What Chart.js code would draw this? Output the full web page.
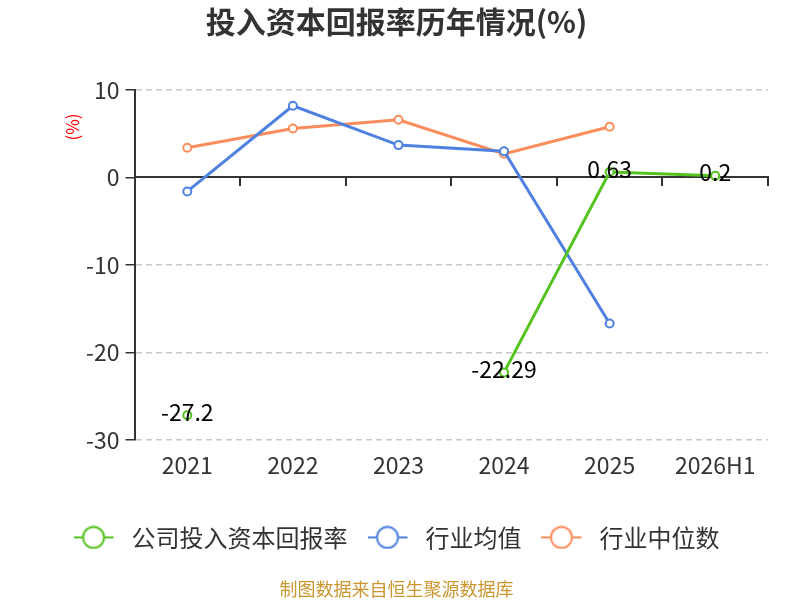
<!DOCTYPE html>
<html>
<head>
<meta charset="utf-8">
<script src="https://cdn.jsdelivr.net/npm/chart.js@4"></script>
<style>
  html, body { margin: 0; padding: 0; background: #fff; }
  #wrap { width: 800px; height: 600px; }
</style>
</head>
<body>
<div id="wrap"><canvas id="chartRoic"></canvas></div>
<script>
// 投入资本回报率历年情况 - data
const categories = ['2021', '2022', '2023', '2024', '2025', '2026H1'];
const companyRoic = [-27.2, null, null, -22.29, 0.63, 0.2];
const industryMean = [-1.6, 8.2, 3.7, 3.0, -16.7, null];
const industryMedian = [3.4, 5.6, 6.6, 2.7, 5.8, null];
const yMin = -30, yMax = 10, yStep = 10;

const FONT = "'Noto Sans CJK SC', 'Noto Sans', sans-serif";
const COLORS = { company: '#55c31f', mean: '#4f81e1', median: '#fa8d5b' };

// legend marker: short line with hollow circle (left part of a 46px box)
function legendIcon(color) {
  const c = document.createElement('canvas');
  c.width = 46; c.height = 24;
  const ctx = c.getContext('2d');
  ctx.strokeStyle = color;
  ctx.lineWidth = 2;
  ctx.beginPath(); ctx.moveTo(0, 12); ctx.lineTo(40, 12); ctx.stroke();
  ctx.fillStyle = '#fff';
  ctx.beginPath(); ctx.arc(20, 12, 10.5, 0, Math.PI * 2); ctx.fill(); ctx.stroke();
  return c;
}

// value labels on the company series
const valueLabels = {
  id: 'valueLabels',
  afterDatasetsDraw(chart) {
    const ctx = chart.ctx;
    const meta = chart.getDatasetMeta(0);
    ctx.save();
    ctx.font = '23px ' + FONT;
    ctx.fillStyle = '#000';
    ctx.textAlign = 'center';
    ctx.textBaseline = 'middle';
    meta.data.forEach((pt, i) => {
      const v = companyRoic[i];
      if (v === null || pt.skip) return;
      ctx.fillText(String(v), pt.x, pt.y - 3);
    });
    ctx.restore();
  }
};

// rotated unit label
const unitLabel = {
  id: 'unitLabel',
  afterDraw(chart) {
    const ctx = chart.ctx;
    ctx.save();
    ctx.translate(73, 127);
    ctx.rotate(-Math.PI / 2);
    ctx.font = '17px ' + FONT;
    ctx.fillStyle = '#ff0000';
    ctx.textAlign = 'center';
    ctx.textBaseline = 'middle';
    ctx.fillText('(%)', 0, 0);
    ctx.restore();
  }
};

function lineSet(label, data, color) {
  return {
    label,
    data,
    borderColor: color,
    backgroundColor: '#fff',
    borderWidth: 3,
    pointRadius: 4,
    pointBorderWidth: 2,
    pointBackgroundColor: '#fff',
    pointBorderColor: color,
    spanGaps: false,
    tension: 0,
  };
}

const icons = [legendIcon(COLORS.company), legendIcon(COLORS.mean), legendIcon(COLORS.median)];

new Chart(document.getElementById('chartRoic'), {
  type: 'line',
  data: {
    labels: categories,
    datasets: [
      lineSet('公司投入资本回报率', companyRoic, COLORS.company),
      lineSet('行业均值', industryMean, COLORS.mean),
      lineSet('行业中位数', industryMedian, COLORS.median),
    ]
  },
  options: {
    responsive: true,
    maintainAspectRatio: false,
    animation: false,
    layout: { padding: { left: 25, right: 32, top: 0, bottom: 0 } },
    plugins: {
      title: {
        display: true,
        text: '投入资本回报率历年情况(%)',
        color: '#333',
        font: { family: FONT, size: 30, weight: 'bold' },
        padding: { top: 4, bottom: 50 }
      },
      subtitle: {
        display: true,
        position: 'bottom',
        text: '制图数据来自恒生聚源数据库',
        color: '#c9962f',
        font: { family: FONT, size: 18 },
        padding: { top: 19, bottom: 0 }
      },
      legend: {
        position: 'bottom',
        labels: {
          usePointStyle: true,
          pointStyleWidth: 46,
          padding: 20,
          color: '#333',
          font: { family: FONT, size: 24 },
          generateLabels: chart => chart.data.datasets.map((ds, i) => ({
            text: ds.label,
            pointStyle: icons[i],
            datasetIndex: i,
            fontColor: '#333',
            lineWidth: 0,
            strokeStyle: 'transparent',
            fillStyle: 'transparent',
            hidden: !chart.isDatasetVisible(i),
          }))
        }
      },
      tooltip: { enabled: false }
    },
    scales: {
      x: {
        type: 'category',
        offset: true,
        grid: { display: false },
        border: { display: false },
        ticks: { color: '#333', font: { family: FONT, size: 23 }, padding: 4 },
        afterFit: scale => { scale.height += 22; }
      },
      x0: {
        type: 'category',
        position: { y: 0 },
        offset: true,
        grid: { offset: true, drawOnChartArea: false, drawTicks: true, tickLength: 8, color: '#333', lineWidth: 2 },
        border: { color: '#333', width: 2 },
        ticks: { display: false }
      },
      y: {
        min: yMin,
        max: yMax,
        ticks: { stepSize: yStep, color: '#333', font: { family: FONT, size: 23 }, padding: 6 },
        afterFit: scale => { scale.width += 55; },
        grid: {
          color: ctx => ctx.tick && ctx.tick.value === 0 ? 'rgba(0,0,0,0)' : '#c8c8c8',
          tickColor: '#333',
          tickLength: 9,
          lineWidth: 1.5,
        },
        border: { color: '#333', width: 2, dash: [6, 4] }
      }
    }
  },
  plugins: [valueLabels, unitLabel]
});
</script>
</body>
</html>
